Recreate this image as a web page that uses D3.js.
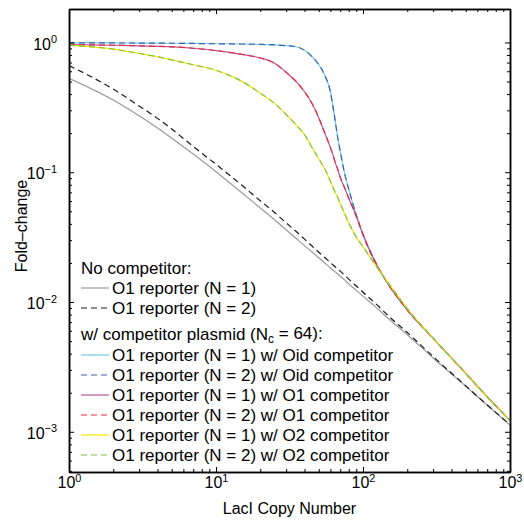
<!DOCTYPE html>
<meta charset="utf-8">
<style>

  body {
    margin: 0;
    background: #fff;
    font-family: "Liberation Sans", Arial, sans-serif;
  }

  .axis path,
  .axis line {
    fill: none;
    stroke: #000;
  }

  .axis path {
    stroke-width: 1.5px;
  }

  .axis text {
    font-family: "Liberation Sans", Arial, sans-serif;
    font-size: 16px;
    fill: #000;
  }

  .curve {
    fill: none;
    stroke-width: 1.2px;
  }

  .legend text {
    font-size: 17px;
    fill: #000;
  }

</style>
<body>
<script src="https://cdn.jsdelivr.net/npm/d3@7"></script>
<script>

  // LacI copy number (x) and fold-change values.
  var copyNumber = [1, 2, 3, 4, 5, 7, 10, 15, 20, 25, 30, 35, 40, 45, 50, 55, 60, 63, 65, 67,
    70, 75, 80, 90, 100, 120, 150, 200, 300, 500, 700, 1000];

  var noCompN1 = [0.53, 0.36, 0.272, 0.219, 0.183, 0.138, 0.101, 0.0695, 0.053, 0.043, 0.036,
    0.031, 0.0272, 0.0243, 0.0219, 0.0200, 0.0183, 0.0175, 0.0170, 0.0165, 0.0158, 0.0148,
    0.0138, 0.0123, 0.0111, 0.0093, 0.0074, 0.0056, 0.0037, 0.00224, 0.0016, 0.00113];

  var noCompN2 = [0.664, 0.437, 0.324, 0.260, 0.215, 0.158, 0.115, 0.0794, 0.0603, 0.049, 0.0407,
    0.0351, 0.0305, 0.027, 0.0242, 0.022, 0.0201, 0.0192, 0.0186, 0.018, 0.0173, 0.0161,
    0.015, 0.0133, 0.0119, 0.00989, 0.00776, 0.00582, 0.0038, 0.00226, 0.00161, 0.00113];

  var oidN1 = [0.993, 0.991, 0.989, 0.988, 0.986, 0.982, 0.977, 0.973, 0.966, 0.957, 0.944,
    0.927, 0.871, 0.776, 0.676, 0.556, 0.417, 0.302, 0.24, 0.191, 0.145, 0.0977,
    0.0741, 0.0468, 0.0331, 0.0204, 0.0135, 0.00871, 0.00525, 0.00282, 0.00186, 0.00122];

  var oidN2 = [0.993, 0.991, 0.989, 0.988, 0.986, 0.982, 0.977, 0.973, 0.966, 0.957, 0.944,
    0.927, 0.871, 0.776, 0.676, 0.556, 0.417, 0.302, 0.24, 0.191, 0.145, 0.0977,
    0.0741, 0.0468, 0.0331, 0.0204, 0.0135, 0.00871, 0.00525, 0.00282, 0.00186, 0.00122];

  var o1N1 = [0.962, 0.951, 0.942, 0.933, 0.925, 0.902, 0.865, 0.809, 0.759, 0.692, 0.589,
    0.501, 0.417, 0.339, 0.263, 0.2, 0.155, 0.132, 0.117, 0.107, 0.0912, 0.0759,
    0.0631, 0.0457, 0.0331, 0.0209, 0.0135, 0.00871, 0.00525, 0.00282, 0.00186, 0.00122];

  var o1N2 = [0.962, 0.951, 0.942, 0.933, 0.925, 0.902, 0.865, 0.809, 0.759, 0.692, 0.589,
    0.501, 0.417, 0.339, 0.263, 0.2, 0.155, 0.132, 0.117, 0.107, 0.0912, 0.0759,
    0.0631, 0.0457, 0.0331, 0.0209, 0.0135, 0.00871, 0.00525, 0.00282, 0.00186, 0.00122];

  var o2N1 = [0.953, 0.887, 0.822, 0.776, 0.733, 0.673, 0.61, 0.501, 0.407, 0.339, 0.279,
    0.232, 0.195, 0.155, 0.127, 0.106, 0.0851, 0.075, 0.0692, 0.0646, 0.0575, 0.0479,
    0.0407, 0.0316, 0.0266, 0.0197, 0.0138, 0.00891, 0.00525, 0.00282, 0.00186, 0.00122];

  var o2N2 = [0.953, 0.887, 0.822, 0.776, 0.733, 0.673, 0.61, 0.501, 0.407, 0.339, 0.279,
    0.232, 0.195, 0.155, 0.127, 0.106, 0.0851, 0.075, 0.0692, 0.0646, 0.0575, 0.0479,
    0.0407, 0.0316, 0.0266, 0.0197, 0.0138, 0.00891, 0.00525, 0.00282, 0.00186, 0.00122];

  var xTicks = [1, 10, 100, 1000];
  var yTicks = [0.001, 0.01, 0.1, 1];

  var headerNoComp = "No competitor:";
  var seriesLabels = [
    "O1 reporter (N = 1)",
    "O1 reporter (N = 2)",
    "O1 reporter (N = 1) w/ Oid competitor",
    "O1 reporter (N = 2) w/ Oid competitor",
    "O1 reporter (N = 1) w/ O1 competitor",
    "O1 reporter (N = 2) w/ O1 competitor",
    "O1 reporter (N = 1) w/ O2 competitor",
    "O1 reporter (N = 2) w/ O2 competitor"
  ];

  // Series table: values + line style.
  var series = [
    {values: noCompN1, color: "#9a9a9a", dash: null},
    {values: noCompN2, color: "#1a1a1a", dash: "6,4"},
    {values: oidN1, color: "#72cde8", dash: null},
    {values: oidN2, color: "#3d5fb0", dash: "6,4"},
    {values: o1N1, color: "#b5569c", dash: null},
    {values: o1N2, color: "#ea2a3c", dash: "6,4"},
    {values: o2N1, color: "#f7e600", dash: null},
    {values: o2N2, color: "#80c341", dash: "6,4"}
  ];
  series.forEach(function(s, i) { s.label = seriesLabels[i]; });

  var W = 524, H = 521;
  var plot = {left: 69, right: 510, top: 9, bottom: 472};

  var x = d3.scaleLog()
    .domain([1, 1000])
    .range([plot.left, plot.right]);

  var y = d3.scaleLog()
    .domain([4.9e-4, 1.81])
    .range([plot.bottom, plot.top]);

  var svg = d3.select("body").append("svg")
    .attr("width", W)
    .attr("height", H);

  // Clip the curves to the box.
  svg.append("clipPath")
    .attr("id", "clip")
    .append("rect")
    .attr("x", plot.left)
    .attr("y", plot.top)
    .attr("width", plot.right - plot.left)
    .attr("height", plot.bottom - plot.top);

  var line = d3.line()
    .x(function(d) { return x(d[0]); })
    .y(function(d) { return y(d[1]); })
    .curve(d3.curveMonotoneX);

  svg.append("g")
    .attr("clip-path", "url(#clip)")
    .selectAll("path")
    .data(series)
    .enter().append("path")
    .attr("class", "curve")
    .attr("stroke", function(d) { return d.color; })
    .attr("stroke-dasharray", function(d) { return d.dash; })
    .attr("d", function(d) {
      return line(copyNumber.map(function(c, i) { return [c, d.values[i]]; }));
    });

  // Minor ticks (2..9 of each decade).
  function minors(scale) {
    return scale.ticks().filter(function(v) {
      var e = Math.log10(v);
      return Math.abs(e - Math.round(e)) > 1e-6;
    });
  }

  function superscript(g) {
    g.selectAll(".tick text").each(function(d) {
      var e = Math.round(Math.log10(d));
      var t = d3.select(this);
      t.text(null);
      t.append("tspan").text("10");
      t.append("tspan")
        .attr("dy", "-0.6em")
        .attr("font-size", "0.68em")
        .text(e < 0 ? "\u2212" + (-e) : String(e));
    });
  }

  var major = 5, minor = 3;

  // Bottom axis.
  svg.append("g")
    .attr("class", "axis")
    .attr("transform", "translate(0," + plot.bottom + ")")
    .call(d3.axisBottom(x).tickValues(minors(x)).tickSizeInner(-minor).tickSizeOuter(0).tickFormat(""));
  svg.append("g")
    .attr("class", "axis")
    .attr("transform", "translate(0," + plot.bottom + ")")
    .call(d3.axisBottom(x).tickValues(xTicks).tickSizeInner(-major).tickSizeOuter(0).tickPadding(5))
    .call(superscript);

  // Top axis.
  svg.append("g")
    .attr("class", "axis")
    .attr("transform", "translate(0," + plot.top + ")")
    .call(d3.axisTop(x).tickValues(minors(x)).tickSizeInner(-minor).tickSizeOuter(0).tickFormat(""));
  svg.append("g")
    .attr("class", "axis")
    .attr("transform", "translate(0," + plot.top + ")")
    .call(d3.axisTop(x).tickValues(xTicks).tickSizeInner(-major).tickSizeOuter(0).tickFormat(""));

  // Left axis.
  svg.append("g")
    .attr("class", "axis")
    .attr("transform", "translate(" + plot.left + ",0)")
    .call(d3.axisLeft(y).tickValues(minors(y)).tickSizeInner(-minor).tickSizeOuter(0).tickFormat(""));
  svg.append("g")
    .attr("class", "axis")
    .attr("transform", "translate(" + plot.left + ",0)")
    .call(d3.axisLeft(y).tickValues(yTicks).tickSizeInner(-major).tickSizeOuter(0).tickPadding(12))
    .call(superscript)
    .selectAll(".tick text").attr("dy", "0.42em");

  // Right axis.
  svg.append("g")
    .attr("class", "axis")
    .attr("transform", "translate(" + plot.right + ",0)")
    .call(d3.axisRight(y).tickValues(minors(y)).tickSizeInner(-minor).tickSizeOuter(0).tickFormat(""));
  svg.append("g")
    .attr("class", "axis")
    .attr("transform", "translate(" + plot.right + ",0)")
    .call(d3.axisRight(y).tickValues(yTicks).tickSizeInner(-major).tickSizeOuter(0).tickFormat(""));

  // Axis titles.
  svg.append("text")
    .attr("x", (plot.left + plot.right) / 2)
    .attr("y", 514)
    .attr("text-anchor", "middle")
    .style("font-size", "16px")
    .text("LacI Copy Number");

  svg.append("text")
    .attr("transform", "translate(27,226) rotate(-90)")
    .attr("text-anchor", "middle")
    .style("font-size", "16px")
    .text("Fold\u2013change");

  // Legend (no box).
  var legend = svg.append("g").attr("class", "legend");
  var lx = 81;
  function rowY(i) { return 268 + 20 * i + (i >= 3 ? 7 : 0); }

  legend.append("text")
    .attr("x", lx)
    .attr("y", rowY(0) + 6)
    .text(headerNoComp);

  var h2 = legend.append("text")
    .attr("x", lx)
    .attr("y", rowY(3) + 5);
  h2.append("tspan").text("w/ competitor plasmid (N");
  h2.append("tspan").attr("dy", "0.25em").attr("font-size", "0.7em").text("c");
  h2.append("tspan").attr("dy", "-0.25em").text(" = 64):");

  var rows = [1, 2, 4, 5, 6, 7, 8, 9];
  series.forEach(function(s, i) {
    var yy = rowY(rows[i]);
    legend.append("line")
      .attr("x1", lx)
      .attr("x2", lx + 28)
      .attr("y1", yy)
      .attr("y2", yy)
      .attr("stroke", s.color)
      .attr("stroke-width", 1.2)
      .attr("stroke-dasharray", s.dash);
    legend.append("text")
      .attr("x", lx + 31)
      .attr("y", yy + 6)
      .text(s.label);
  });

</script>
